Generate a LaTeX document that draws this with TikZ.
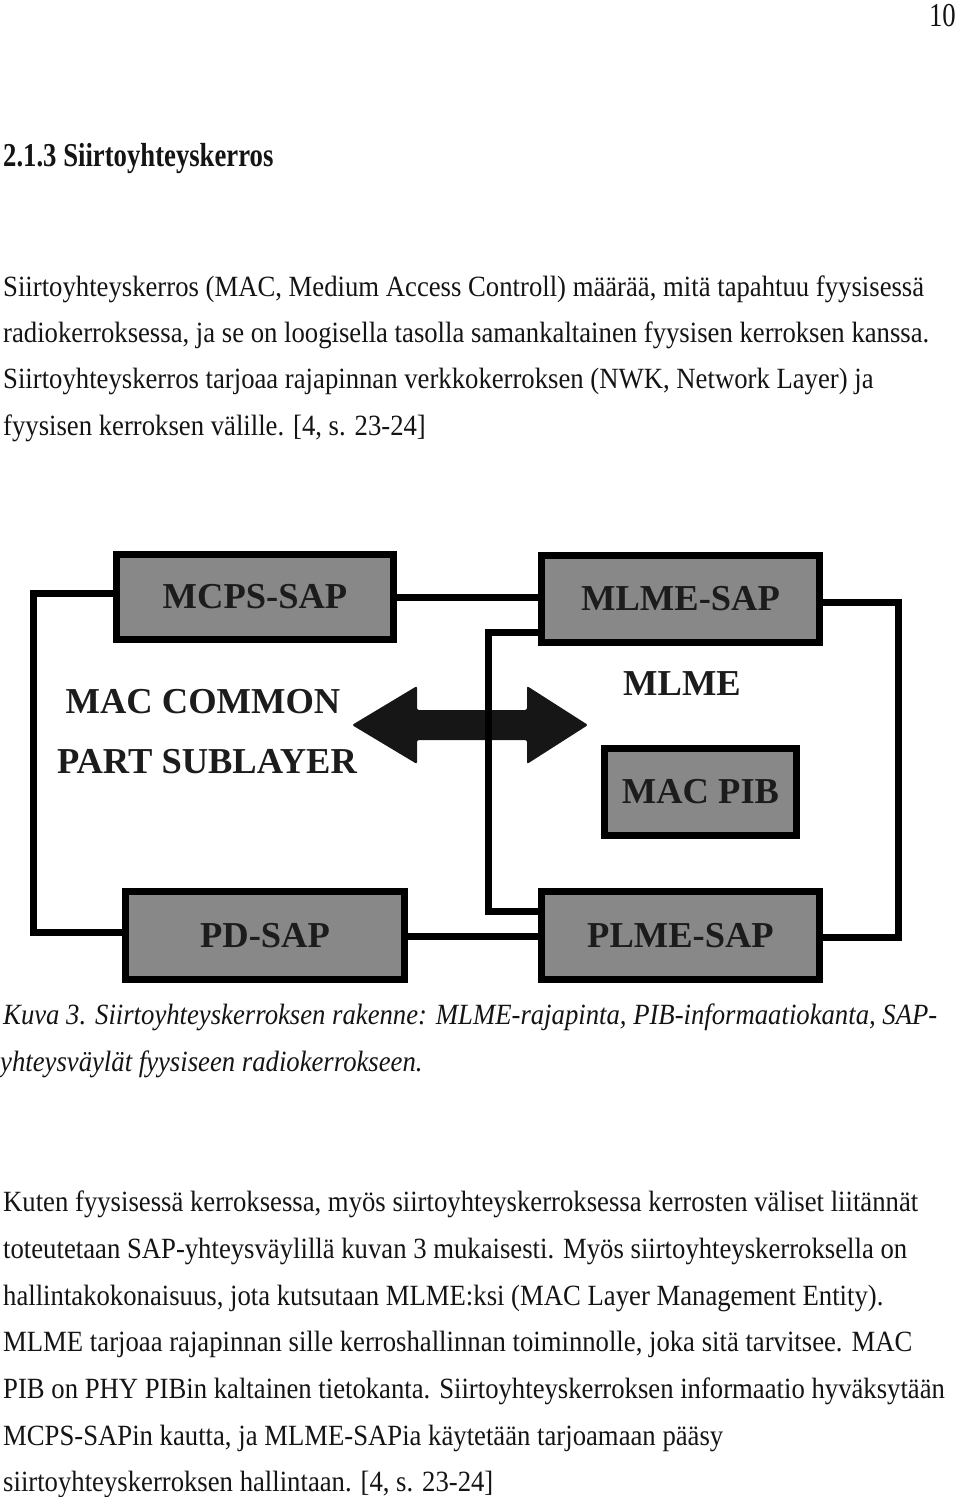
\documentclass[tikz,border=0pt]{standalone}
\usepackage{fontspec}
\usepackage{graphicx}
\setmainfont{Liberation Serif}
\usetikzlibrary{arrows.meta}
\definecolor{boxgray}{RGB}{136,136,136}
\definecolor{labelgray}{RGB}{28,28,28}
\definecolor{arrowcol}{RGB}{22,22,22}
\definecolor{inkcol}{RGB}{20,20,20}
\newcommand\bodyfont{\fontsize{26.7}{32}\selectfont}
\newcommand\diagfont{\fontsize{36.5}{40}\selectfont\bfseries}
\newcommand\vstr[1]{\scalebox{1}[1.1]{#1}}
\newcommand\hstr[1]{\scalebox{1}[1.25]{#1}}
\begin{document}
\begin{tikzpicture}[x=1pt,y=-1pt,
  sapbox/.style={draw=black, line width=7pt, fill=boxgray, text=labelgray,
    font=\diagfont, inner sep=0pt},
  wire/.style={line width=7pt, draw=black},
  difflabel/.style={text=labelgray, font=\diagfont, inner sep=0pt, anchor=base},
  bodyline/.style={anchor=base west, inner sep=0pt, font=\bodyfont, text=inkcol},
  capline/.style={anchor=base west, inner sep=0pt, font=\bodyfont\itshape, text=inkcol}]
\useasboundingbox (0,0) rectangle (960,1497);

% page number and heading
\node[anchor=base east, inner sep=0pt, font=\bodyfont, text=inkcol] (pnum) at (956,26) {\hstr{10}};
\node[anchor=base west, inner sep=0pt, font=\bodyfont\bfseries, text=inkcol] (head) at (3,166) {\hstr{2.1.3 Siirtoyhteyskerros}};

% paragraph 1
\node[bodyline] (p1a) at (3,296) {\vstr{Siirtoyhteyskerros (MAC, Medium Access Controll) määrää, mitä tapahtuu fyysisessä}};
\node[bodyline] (p1b) at (3,342) {\vstr{radiokerroksessa, ja se on loogisella tasolla samankaltainen fyysisen kerroksen kanssa.}};
\node[bodyline] (p1c) at (3,388) {\vstr{Siirtoyhteyskerros tarjoaa rajapinnan verkkokerroksen (NWK, Network Layer) ja}};
\node[bodyline] (p1d) at (3,435) {\vstr{fyysisen kerroksen välille. [4, s. 23-24]}};

% diagram boxes
\node[sapbox, minimum width=277pt, minimum height=85pt] (mcps) at (255,597) {MCPS-SAP};
\node[sapbox, minimum width=278pt, minimum height=87pt] (mlmesap) at (680.5,599) {MLME-SAP};
\node[sapbox, minimum width=192pt, minimum height=87pt] (pib) at (700.5,792) {MAC PIB};
\node[sapbox, minimum width=279pt, minimum height=88pt] (pd) at (265,935.5) {PD-SAP};
\node[sapbox, minimum width=278pt, minimum height=88pt] (plme) at (680.5,935.5) {PLME-SAP};

% diagram labels
\node[difflabel] (mac1) at (203,713) {MAC COMMON};
\node[difflabel] (mac2) at (207,773) {PART SUBLAYER};
\node[difflabel] (mlme) at (682,695) {MLME};

% double arrow
\coordinate (la) at (352,725);
\coordinate (ra) at (588,725);
\fill[arrowcol, rounded corners=2pt] (la) -- ++(65,-39) -- ++(0,24) -- ++(110,0) -- ++(0,-24)
  -- (ra) -- ++(-61,39) -- ++(0,-24) -- ++(-110,0) -- ++(0,24) -- cycle;

% connector end points on the boxes
\coordinate (mcpsL) at ([yshift=4pt]mcps.west);
\coordinate (pdL) at ([yshift=3.5pt]pd.west);
\coordinate (pdR) at ([yshift=-0.5pt]pd.east);
\coordinate (mlmeL) at ([yshift=-33pt]mlmesap.west);
\coordinate (plmeL) at ([yshift=24.5pt]plme.west);
\coordinate (mlmeR) at ([yshift=-3pt]mlmesap.east);
\coordinate (plmeR) at ([yshift=-1.5pt]plme.east);
\coordinate (lout) at (33,0);
\coordinate (rout) at (898,0);
\coordinate (mid) at (488,0);

% connectors
\draw[wire] (mcpsL) -| (lout |- pdL) -- (pdL);
\draw[wire] (mcps.east) -- (mlmesap.west |- mcps.east);
\draw[wire] (pdR) -- (plme.west |- pdR);
\draw[wire] (mlmeL) -| (mid |- plmeL) -- (plmeL);
\draw[wire] (mlmeR) -| (rout |- plmeR) -- (plmeR);

% caption
\node[capline] (cap1) at (3,1024) {\vstr{Kuva 3. Siirtoyhteyskerroksen rakenne: MLME-rajapinta, PIB-informaatiokanta, SAP-}};
\node[capline] (cap2) at (0,1071) {\vstr{yhteysväylät fyysiseen radiokerrokseen.}};

% paragraph 2
\node[bodyline] (p2a) at (3,1211) {\vstr{Kuten fyysisessä kerroksessa, myös siirtoyhteyskerroksessa kerrosten väliset liitännät}};
\node[bodyline] (p2b) at (3,1258) {\vstr{toteutetaan SAP-yhteysväylillä kuvan 3 mukaisesti. Myös siirtoyhteyskerroksella on}};
\node[bodyline] (p2c) at (3,1305) {\vstr{hallintakokonaisuus, jota kutsutaan MLME:ksi (MAC Layer Management Entity).}};
\node[bodyline] (p2d) at (3,1351) {\vstr{MLME tarjoaa rajapinnan sille kerroshallinnan toiminnolle, joka sitä tarvitsee. MAC}};
\node[bodyline] (p2e) at (3,1398) {\vstr{PIB on PHY PIBin kaltainen tietokanta. Siirtoyhteyskerroksen informaatio hyväksytään}};
\node[bodyline] (p2f) at (3,1445) {\vstr{MCPS-SAPin kautta, ja MLME-SAPia käytetään tarjoamaan pääsy}};
\node[bodyline] (p2g) at (3,1491) {\vstr{siirtoyhteyskerroksen hallintaan. [4, s. 23-24]}};
\end{tikzpicture}
\end{document}
